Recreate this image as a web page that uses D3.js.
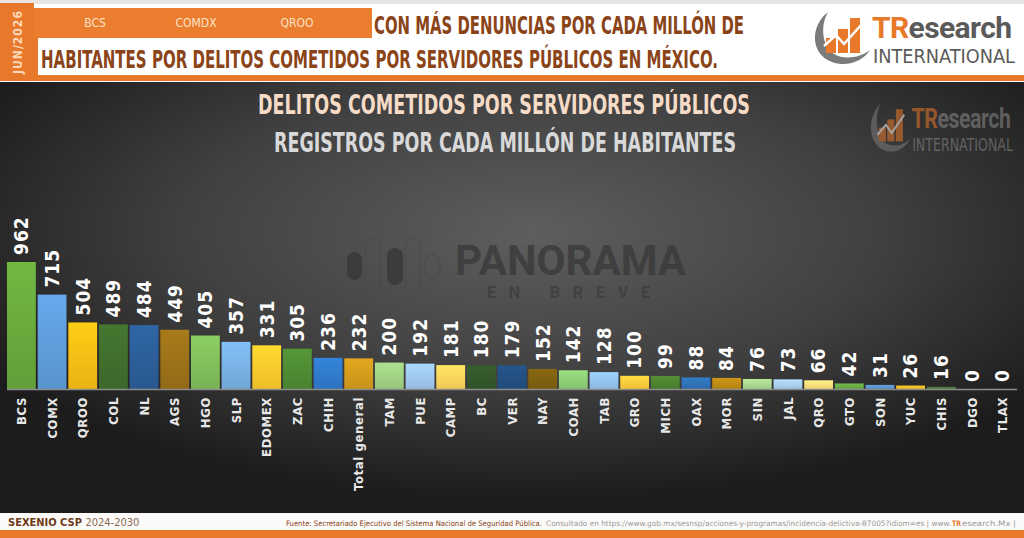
<!DOCTYPE html>
<html>
<head>
<meta charset="utf-8">
<script src="https://cdn.jsdelivr.net/npm/d3@7"></script>
<style>
  html, body { margin: 0; padding: 0; background: #fff; }
  svg { display: block; }
  .cond { font-family: "Liberation Sans Narrow", "DejaVu Sans Condensed", "Roboto Condensed", "Liberation Sans", sans-serif; font-stretch: condensed; }
</style>
</head>
<body>
<div id="chart"></div>
<script>
// datos
var estados = ["BCS", "COMX", "QROO", "COL", "NL", "AGS", "HGO", "SLP", "EDOMEX", "ZAC", "CHIH",
  "Total general", "TAM", "PUE", "CAMP", "BC", "VER", "NAY", "COAH", "TAB", "GRO", "MICH", "OAX",
  "MOR", "SIN", "JAL", "QRO", "GTO", "SON", "YUC", "CHIS", "DGO", "TLAX"];
var registros = [962, 715, 504, 489, 484, 449, 405, 357, 331, 305, 236, 232, 200, 192, 181, 180,
  179, 152, 142, 128, 100, 99, 88, 84, 76, 73, 66, 42, 31, 26, 16, 0, 0];
var colores = ["#67a83c", "#5d9bd8", "#f7bc14", "#3f6d2c", "#2b5d97", "#9a7018", "#7fbd5a", "#78b0e3",
  "#fcc72c", "#4d8a33", "#3079c9", "#d19a1c", "#9fcf83", "#9cc6ec", "#fdd35a", "#33552a",
  "#224f80", "#7e5f10", "#8dcd75", "#92c1ea", "#fdca3b", "#4c8230", "#2f71b5", "#bd8a14",
  "#a8d690", "#a9cdee", "#fedd7a", "#6aab45", "#5b95cf", "#f3bd23", "#4f7a3a", "#4f7a3a", "#4f7a3a"];
var tituloPanel = ["DELITOS COMETIDOS POR SERVIDORES PÚBLICOS", "REGISTROS POR CADA MILLÓN DE HABITANTES"];
var top3 = ["BCS", "COMDX", "QROO"];

var W = 1024, H = 538;
var svg = d3.select("#chart").append("svg")
  .attr("width", W).attr("height", H);
var defs = svg.append("defs");

// fondo del panel
var rg = defs.append("radialGradient").attr("id", "bg")
  .attr("cx", 0.52).attr("cy", 0.35).attr("r", 0.62);
rg.append("stop").attr("offset", "0%").attr("stop-color", "#5e5e5e");
rg.append("stop").attr("offset", "55%").attr("stop-color", "#404040");
rg.append("stop").attr("offset", "100%").attr("stop-color", "#1c1c1c");

// ---------- encabezado ----------
svg.append("rect").attr("x", 0).attr("y", 0).attr("width", W).attr("height", 4).attr("fill", "#e9e5e2");
svg.append("rect").attr("x", 0).attr("y", 3).attr("width", 34).attr("height", 78).attr("fill", "#e8782a");
svg.append("rect").attr("x", 0).attr("y", 75).attr("width", W).attr("height", 6).attr("fill", "#e8782a");
svg.append("rect").attr("x", 34).attr("y", 8).attr("width", 338).attr("height", 30).attr("fill", "#ea7d2e");
svg.append("rect").attr("x", 34).attr("y", 38).attr("width", 4).attr("height", 37).attr("fill", "#e8782a");

svg.append("text").attr("class", "cond")
  .attr("transform", "translate(22,42) rotate(-90)")
  .attr("text-anchor", "middle")
  .attr("font-size", 12).attr("font-weight", "bold").attr("fill", "#fbd9b8")
  .attr("letter-spacing", 1)
  .text("JUN/2026");

var posTop = d3.scalePoint().domain(top3).range([95, 297]);
svg.selectAll(".top3").data(top3).enter().append("text")
  .attr("class", "cond")
  .attr("x", function(d) { return posTop(d); })
  .attr("y", 27)
  .attr("text-anchor", "middle")
  .attr("font-size", 12).attr("fill", "#fde2c8")
  .text(function(d) { return d; });

svg.append("text").attr("class", "cond")
  .attr("x", 374).attr("y", 34)
  .attr("textLength", 370).attr("lengthAdjust", "spacingAndGlyphs")
  .attr("font-size", 24).attr("font-weight", "bold").attr("fill", "#8a4418")
  .text("CON MÁS DENUNCIAS POR CADA MILLÓN DE");
svg.append("text").attr("class", "cond")
  .attr("x", 41).attr("y", 68)
  .attr("textLength", 677).attr("lengthAdjust", "spacingAndGlyphs")
  .attr("font-size", 24).attr("font-weight", "bold").attr("fill", "#8a4418")
  .text("HABITANTES POR DELITOS COMETIDOS POR SERVIDORES PÚBLICOS EN MÉXICO.");

// logo TResearch
function logo(g, s, op) {
  g.attr("opacity", op);
  g.append("path")
    .attr("d", "M20,4 C2,18 2,46 24,54 C40,60 56,52 62,42 C52,50 36,52 26,46 C14,38 12,18 20,4 Z")
    .attr("fill", "#7b7b7b");
  var bars = [[18, 30, 10, 15], [30, 21, 10, 24], [42, 10, 10, 35]];
  bars.forEach(function(b) {
    g.append("rect").attr("x", b[0]).attr("y", b[1]).attr("width", b[2]).attr("height", b[3]).attr("fill", "#e8782a");
  });
  g.append("path").attr("d", "M16,38 L28,27 L36,36 L54,16")
    .attr("fill", "none").attr("stroke", "#ffffff").attr("stroke-width", 2.5);
  var t = g.append("text").attr("x", 64).attr("y", 30)
    .attr("font-family", "Roboto, 'Liberation Sans', sans-serif")
    .attr("font-size", 30).attr("font-weight", "bold").attr("letter-spacing", -0.6);
  t.append("tspan").attr("fill", "#e8782a").text("TR");
  t.append("tspan").attr("fill", s).text("esearch");
  g.append("text").attr("class", "cond").attr("x", 65).attr("y", 55)
    .attr("textLength", 142).attr("lengthAdjust", "spacingAndGlyphs")
    .attr("font-size", 19).attr("fill", s).text("INTERNATIONAL");
}
logo(svg.append("g").attr("transform", "translate(808,8)"), "#5a5a5a", 1);

// ---------- panel ----------
svg.append("rect").attr("x", 0).attr("y", 82).attr("width", W).attr("height", 431).attr("fill", "url(#bg)");

svg.append("text").attr("class", "cond")
  .attr("x", 258).attr("y", 114)
  .attr("textLength", 492).attr("lengthAdjust", "spacingAndGlyphs")
  .attr("font-size", 27).attr("font-weight", "bold").attr("fill", "#f6dcc7")
  .text(tituloPanel[0]);
svg.append("text").attr("class", "cond")
  .attr("x", 274).attr("y", 152)
  .attr("textLength", 462).attr("lengthAdjust", "spacingAndGlyphs")
  .attr("font-size", 27).attr("font-weight", "bold").attr("fill", "#d9d9d9")
  .text(tituloPanel[1]);

logo(svg.append("g").attr("transform", "translate(866,100) scale(0.71,0.92)"), "#8a8a8a", 0.55);

// marca de agua PANORAMA
var wm = svg.append("g").attr("opacity", 0.8);
[[347, 252, 15, 28, 1], [365, 238, 15, 57, 0], [387, 248, 16, 37, 1], [405, 238, 15, 55, 0], [425, 255, 15, 23, 0]].forEach(function(p) {
  wm.append("rect").attr("x", p[0]).attr("y", p[1]).attr("width", p[2]).attr("height", p[3])
    .attr("rx", p[2] / 2)
    .attr("fill", p[4] ? "#383838" : "none")
    .attr("stroke", p[4] ? "none" : "#4a4a4a").attr("stroke-width", 1);
});
wm.append("text").attr("x", 455).attr("y", 275)
  .attr("textLength", 231).attr("lengthAdjust", "spacingAndGlyphs")
  .attr("font-family", "Roboto, 'Liberation Sans', sans-serif")
  .attr("font-size", 42).attr("font-weight", "bold").attr("fill", "#3a3a3a")
  .text("PANORAMA");
wm.append("text").attr("x", 487).attr("y", 298)
  .attr("textLength", 163).attr("lengthAdjust", "spacing")
  .attr("font-family", "Roboto, 'Liberation Sans', sans-serif")
  .attr("font-size", 16).attr("font-weight", "bold").attr("fill", "#3e3e3e")
  .text("EN BREVE");

// ---------- barras ----------
var x = d3.scaleBand().domain(estados).range([7, 1017]).paddingInner(0.06).paddingOuter(0);
var y = d3.scaleLinear().domain([0, 962]).range([389, 262]);

estados.forEach(function(d, i) {
  var lg = defs.append("linearGradient").attr("id", "g" + i)
    .attr("x1", 0).attr("y1", 0).attr("x2", 0).attr("y2", 1);
  lg.append("stop").attr("offset", "0%").attr("stop-color", d3.color(colores[i]).brighter(0.25));
  lg.append("stop").attr("offset", "100%").attr("stop-color", d3.color(colores[i]).darker(0.15));
});

var datos = estados.map(function(d, i) { return { name: d, total: registros[i], i: i }; });

svg.selectAll(".bar").data(datos).enter().append("rect")
  .attr("class", "bar")
  .attr("x", function(d) { return x(d.name); })
  .attr("width", x.bandwidth())
  .attr("y", function(d) { return y(d.total); })
  .attr("height", function(d) { return Math.max(y(0) - y(d.total), d.total > 0 ? 2 : 0); })
  .attr("fill", function(d) { return "url(#g" + d.i + ")"; });

svg.append("line")
  .attr("x1", 7).attr("x2", 1017).attr("y1", y(0) + 0.5).attr("y2", y(0) + 0.5)
  .attr("stroke", "#8c8c8c").attr("stroke-width", 1.5);

svg.selectAll(".val").data(datos).enter().append("text")
  .attr("class", "cond")
  .attr("transform", function(d) {
    return "translate(" + (x(d.name) + x.bandwidth() / 2) + "," + (y(d.total) - 7) + ") rotate(-90)";
  })
  .attr("dy", "0.36em")
  .attr("font-size", 19).attr("font-weight", "bold").attr("fill", "#ffffff")
  .attr("letter-spacing", 1)
  .text(function(d) { return d.total; });

svg.selectAll(".cat").data(datos).enter().append("text")
  .attr("class", "cond")
  .attr("transform", function(d) {
    return "translate(" + (x(d.name) + x.bandwidth() / 2) + "," + (y(0) + 8) + ") rotate(-90)";
  })
  .attr("text-anchor", "end")
  .attr("dy", "0.36em")
  .attr("font-size", 13).attr("font-weight", "bold").attr("fill", "#e8e8e8")
  .attr("letter-spacing", 0.6)
  .text(function(d) { return d.name; });

// ---------- pie ----------
svg.append("rect").attr("x", 0).attr("y", 513).attr("width", W).attr("height", 17).attr("fill", "#fbfaf9");
svg.append("rect").attr("x", 0).attr("y", 530).attr("width", W).attr("height", 8).attr("fill", "#e8782a");

var sx = svg.append("text").attr("class", "cond").attr("x", 8).attr("y", 526).attr("font-size", 11);
sx.append("tspan").attr("font-weight", "bold").attr("fill", "#6e3a18").text("SEXENIO CSP ");
sx.append("tspan").attr("fill", "#8d6a52").text("2024-2030");

var piezas = [
  { t: "Fuente: Secretariado Ejecutivo del Sistema Nacional de Seguridad Pública.", x: 286, w: 256, c: "#8a4418", b: false },
  { t: "Consultado en https://www.gob.mx/sesnsp/acciones-y-programas/incidencia-delictiva-87005?idiom=es | www.", x: 546, w: 405, c: "#9a9a9a", b: false },
  { t: "TR", x: 952, w: 9, c: "#e8782a", b: true },
  { t: "esearch.Mx |", x: 962, w: 54, c: "#9a9a9a", b: false }
];
piezas.forEach(function(p) {
  svg.append("text").attr("class", "cond")
    .attr("x", p.x).attr("y", 526)
    .attr("textLength", p.w).attr("lengthAdjust", "spacingAndGlyphs")
    .attr("font-size", 7.5).attr("font-weight", p.b ? "bold" : "normal")
    .attr("fill", p.c).text(p.t);
});
</script>
</body>
</html>
